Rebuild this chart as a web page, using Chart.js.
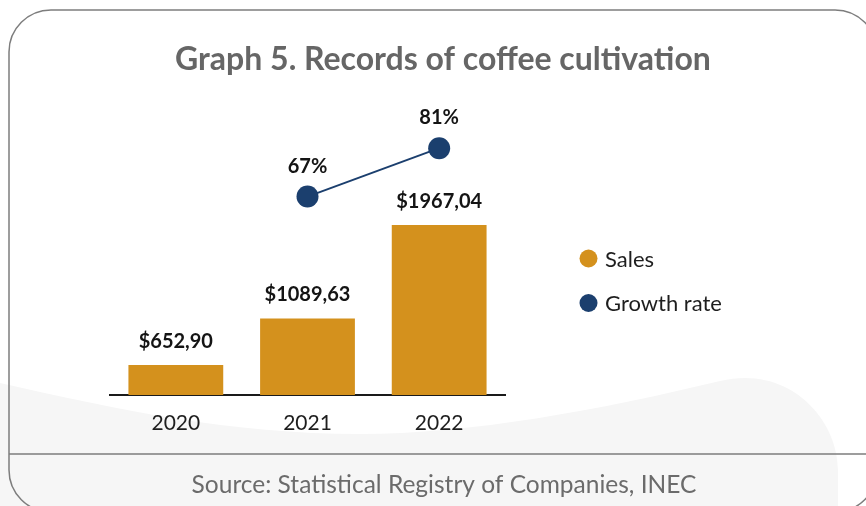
<!DOCTYPE html>
<html>
<head>
<meta charset="utf-8">
<script src="https://cdn.jsdelivr.net/npm/chart.js@4"></script>
<style>
  html, body { margin: 0; padding: 0; background: #ffffff; }
  #chart { display: block; }
</style>
</head>
<body>
<canvas id="chart" width="866" height="506"></canvas>
<script>
// Chart content
const years = ['2020', '2021', '2022'];
const sales = [652.90, 1089.63, 1967.04];
const growthRate = [null, 67, 81];
const seriesNames = ['Sales', 'Growth rate'];
const titleText = 'Graph 5. Records of coffee cultivation';
const sourceText = 'Source: Statistical Registry of Companies, INEC';

const GOLD = '#D4911D';
const NAVY = '#1B3F6E';
const FONT = 'Lato, "Open Sans", sans-serif';

const fmtMoney = v => '$' + v.toFixed(2).replace('.', ',');
const fmtPct = v => v + '%';

// Card frame, background wave, footer rule, title, source, legend and value labels
const decor = {
  id: 'decor',
  beforeDraw(chart) {
    const ctx = chart.ctx;
    ctx.save();
    ctx.fillStyle = '#ffffff';
    ctx.fillRect(0, 0, chart.width, chart.height);

    // soft grey wave behind the lower part of the card
    ctx.fillStyle = '#f6f6f6';
    ctx.beginPath();
    ctx.moveTo(0, 383);
    ctx.bezierCurveTo(120, 410, 230, 434, 360, 434);
    ctx.bezierCurveTo(470, 434, 600, 410, 720, 381);
    ctx.bezierCurveTo(790, 364, 838, 420, 838, 470);
    ctx.lineTo(838, 506);
    ctx.lineTo(0, 506);
    ctx.closePath();
    ctx.fill();

    // footer separator
    ctx.strokeStyle = '#7d7d7d';
    ctx.lineWidth = 1.5;
    ctx.beginPath();
    ctx.moveTo(9, 454);
    ctx.lineTo(877, 454);
    ctx.stroke();

    // rounded card outline
    ctx.beginPath();
    ctx.roundRect(9, 10, 868, 502, 42);
    ctx.stroke();

    // title
    ctx.fillStyle = '#666666';
    ctx.font = 'bold 32px ' + FONT;
    ctx.textAlign = 'center';
    ctx.textBaseline = 'alphabetic';
    ctx.fillText(titleText, 443, 70);

    // source
    ctx.fillStyle = '#6b6b6b';
    ctx.font = '24.5px ' + FONT;
    ctx.fillText(sourceText, 444, 493);
    ctx.restore();
  },
  afterDatasetsDraw(chart) {
    const ctx = chart.ctx;
    ctx.save();
    ctx.fillStyle = '#141414';
    ctx.font = 'bold 20px ' + FONT;
    ctx.textAlign = 'center';
    ctx.textBaseline = 'alphabetic';
    chart.data.datasets.forEach((ds, di) => {
      const meta = chart.getDatasetMeta(di);
      meta.data.forEach((el, i) => {
        const v = ds.data[i];
        if (v === null || v === undefined) return;
        if (ds.type === 'line') {
          ctx.fillText(fmtPct(v), el.x, el.y - 24);
        } else {
          ctx.fillText(fmtMoney(v), el.x, el.y - 17);
        }
      });
    });

    // legend
    const items = [
      { ds: chart.data.datasets[1], y: 258.5 },
      { ds: chart.data.datasets[0], y: 303 }
    ];
    ctx.font = '22px ' + FONT;
    ctx.textAlign = 'left';
    ctx.textBaseline = 'middle';
    items.forEach(it => {
      ctx.fillStyle = it.ds.type === 'line' ? it.ds.pointBackgroundColor : it.ds.backgroundColor;
      ctx.beginPath();
      ctx.arc(588.5, it.y, 9, 0, Math.PI * 2);
      ctx.fill();
      ctx.fillStyle = '#1e1e1e';
      ctx.fillText(it.ds.label, 605, it.y + 1);
    });
    ctx.restore();
  }
};

new Chart(document.getElementById('chart'), {
  data: {
    labels: years,
    datasets: [
      {
        type: 'line',
        label: seriesNames[1],
        data: growthRate,
        yAxisID: 'y1',
        borderColor: NAVY,
        borderWidth: 2,
        pointRadius: 11,
        pointBackgroundColor: NAVY,
        pointBorderWidth: 0,
        order: 0
      },
      {
        type: 'bar',
        label: seriesNames[0],
        data: sales,
        yAxisID: 'y',
        backgroundColor: GOLD,
        barPercentage: 0.72,
        categoryPercentage: 1.0,
        order: 1
      }
    ]
  },
  options: {
    responsive: false,
    devicePixelRatio: 1,
    animation: false,
    layout: { padding: { left: 110, right: 361, top: 115, bottom: 0 } },
    plugins: {
      legend: { display: false },
      title: { display: false },
      tooltip: { enabled: false }
    },
    scales: {
      x: {
        grid: { display: false, drawTicks: false },
        border: { display: true, color: '#1a1a1a', width: 2 },
        ticks: { color: '#1e1e1e', font: { family: FONT, size: 21 }, padding: 16 },
        afterFit(scale) { scale.height = 111; }
      },
      y: { display: false, min: 371, max: 3000 },
      y1: { display: false, min: 9.6, max: 90.6 }
    }
  },
  plugins: [decor]
});
</script>
</body>
</html>
